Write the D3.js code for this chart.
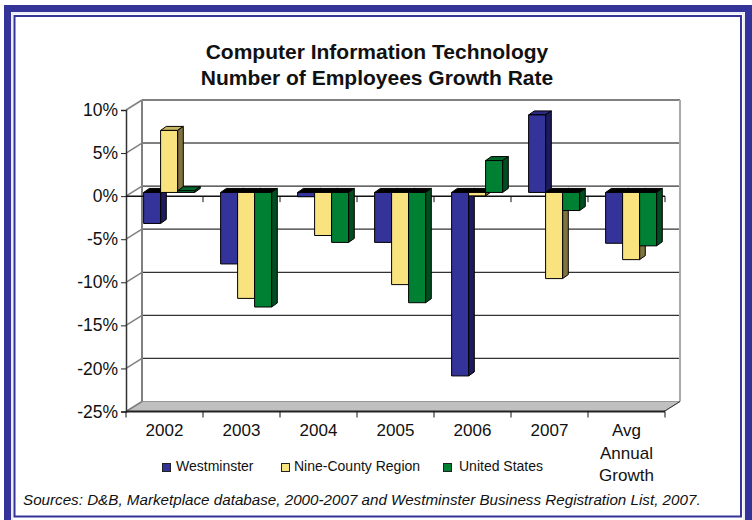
<!DOCTYPE html>
<html><head><meta charset="utf-8">
<script src="https://cdn.jsdelivr.net/npm/d3@7/dist/d3.min.js"></script>
<style>html,body{margin:0;padding:0;background:#fff}svg{display:block}text{font-family:"Liberation Sans",Arial,sans-serif;fill:#111}</style>
</head><body><svg id="c" width="752" height="520"></svg>
<script>
const categories=["2002","2003","2004","2005","2006","2007","Avg Annual Growth"];
const seriesNames=["Westminster","Nine-County Region","United States"];
const westminster=[-3.6,-8.3,-0.5,-5.8,-21.3,9.0,-5.9];
const nineCounty=[7.2,-12.3,-5.0,-10.7,-0.4,-10.0,-7.8];
const unitedStates=[0.2,-13.3,-5.8,-12.8,3.7,-2.1,-6.2];
const seriesValues=[westminster,nineCounty,unitedStates];
const yTicks=[10,5,0,-5,-10,-15,-20,-25];
const titleLines=["Computer Information Technology","Number of Employees Growth Rate"];
const source="Sources: D&B, Marketplace database, 2000-2007 and Westminster Business Registration List, 2007.";
const palette=[{f:"#333399",s:"#1c1c5c",t:"#2a2a80"},{f:"#f9e37f",s:"#7f7340",t:"#c9b761"},{f:"#008033",s:"#004d1f",t:"#006629"}];

const svg=d3.select("#c");
const L=126,R=665,T=110,B=411.5,DX=16,DY=-10,bdx=5.7,bdy=4,zdx=4.6,zdy=-3.7;
const y=d3.scaleLinear().domain([-25,10]).range([B,T]);
const x0=d3.scaleBand().domain(categories).range([L,R]).paddingInner(.338).paddingOuter(.169);
const x1=d3.scaleBand().domain(d3.range(3)).range([0,x0.bandwidth()]);

// frame: heavy band on the top and both sides, a fine rule inside it on all four sides
svg.append("path").attr("d","M4,520V5H752V520H745V12H11V520Z").attr("fill","#333399");
svg.append("path").attr("d","M12,520V13H744V520").attr("fill","none").attr("stroke","#dcdcf2").attr("stroke-width",1);
svg.append("rect").attr("x",14.5).attr("y",16).attr("width",726.5).attr("height",500.5).attr("fill","none").attr("stroke","#333399").attr("stroke-width",2);

// title
svg.append("g").selectAll("text").data(titleLines).join("text").attr("x",377).attr("y",(d,i)=>59+i*26)
 .attr("text-anchor","middle").attr("font-size",21).attr("font-weight","bold").attr("fill","#000").text(d=>d);

// floor and walls
svg.append("path").attr("d",`M${L},${B}L${L+DX},${B+DY}H${R+DX-1}L${R-1},${B}Z`).attr("fill","#c0c0c0").attr("stroke","#999").attr("stroke-width",1);
const grid=svg.append("g");
grid.selectAll("line.g").data(yTicks.slice(0,-1)).join("line").attr("x1",L+DX).attr("x2",R+DX-1)
 .attr("y1",d=>y(d)+DY).attr("y2",d=>y(d)+DY).attr("stroke",d=>d>0?"#808080":"#333").attr("stroke-width",d=>d>0?2:1.3);
grid.selectAll("line.d").data(yTicks).join("line").attr("x1",L).attr("x2",L+DX).attr("y1",d=>y(d)).attr("y2",d=>y(d)+DY).attr("stroke","#808080").attr("stroke-width",1.5);
svg.append("line").attr("x1",L+DX).attr("x2",L+DX).attr("y1",T+DY).attr("y2",B+DY).attr("stroke","#808080").attr("stroke-width",2);
svg.append("line").attr("x1",R+DX-1).attr("x2",R+DX-1).attr("y1",T+DY).attr("y2",B+DY).attr("stroke","#aaa").attr("stroke-width",2);
svg.append("line").attr("x1",R+DX-1).attr("x2",R-1).attr("y1",B+DY).attr("y2",B).attr("stroke","#333").attr("stroke-width",1);

// y axis
const ya=svg.append("g").attr("transform",`translate(${L},0)`).call(d3.axisLeft(y).tickValues(yTicks).tickFormat(d=>d+"%").tickSize(5).tickPadding(3));
ya.select(".domain").attr("stroke","#333").attr("stroke-width",1.5);
ya.selectAll("line").attr("stroke","#222");
ya.selectAll("text").attr("font-size",17.5).attr("fill","#111").attr("font-family","Liberation Sans");

// zero line + its ticks
const ticksX=d3.range(categories.length+1).map(i=>L+i*x0.step());
svg.append("line").attr("x1",L).attr("x2",R).attr("y1",y(0)).attr("y2",y(0)).attr("stroke","#111").attr("stroke-width",1.5);
svg.append("g").selectAll("line").data(ticksX.slice(1)).join("line").attr("x1",d=>d).attr("x2",d=>d).attr("y1",y(0)).attr("y2",y(0)+6).attr("stroke","#111");

// bars
const bars=svg.append("g");
categories.forEach((c,i)=>{
  seriesValues.forEach((vals,k)=>{
    const v=vals[i],col=palette[k];
    const xa=x0(c)+zdx+x1(k),xb=xa+x1.bandwidth();
    const y0=y(0)+zdy,yv=y(v)+zdy;
    const top=Math.min(y0,yv),bot=Math.max(y0,yv);
    const g=bars.append("g").attr("stroke","#000").attr("stroke-width",1).attr("stroke-linejoin","round");
    g.append("path").attr("d",`M${xa},${top}L${xa+bdx},${top-bdy}H${xb+bdx}L${xb},${top}Z`).attr("fill",v<0?"#000":col.t);
    g.append("path").attr("d",`M${xb},${top}L${xb+bdx},${top-bdy}V${bot-bdy}L${xb},${bot}Z`).attr("fill",col.s);
    g.append("rect").attr("x",xa).attr("y",top).attr("width",xb-xa).attr("height",bot-top).attr("fill",col.f);
  });
});

// x axis
const xa=svg.append("g").attr("transform",`translate(0,${B})`).call(d3.axisBottom(x0).tickSize(0).tickPadding(12).tickFormat(d=>d.startsWith("Avg")?"":d));
xa.select(".domain").attr("d",`M${L},0H${R}`).attr("stroke","#222").attr("stroke-width",2);
xa.selectAll("text").attr("font-size",17).attr("fill","#111").attr("font-family","Liberation Sans");
svg.append("g").selectAll("line").data(ticksX).join("line").attr("x1",d=>d).attr("x2",d=>d).attr("y1",B).attr("y2",B+6).attr("stroke","#111");
const lastC=categories[categories.length-1];
svg.append("g").selectAll("text").data(lastC.split(" ")).join("text").attr("x",x0(lastC)+x0.bandwidth()/2).attr("y",(d,i)=>436+i*22.5)
  .attr("text-anchor","middle").attr("font-size",17).text(d=>d);

// legend
const legX=[162,281,443],legT=[176,294,459];
const leg=svg.append("g").selectAll("g").data(seriesNames).join("g");
leg.append("rect").attr("x",(d,i)=>legX[i]+.5).attr("y",463.5).attr("width",8).attr("height",8).attr("fill",(d,i)=>palette[i].f).attr("stroke","#222");
leg.append("text").attr("x",(d,i)=>legT[i]).attr("y",471).attr("font-size",14).text(d=>d);

// source
svg.append("text").attr("x",23).attr("y",505).attr("font-size",15.2).attr("font-style","italic").text(source);
</script></body></html>
